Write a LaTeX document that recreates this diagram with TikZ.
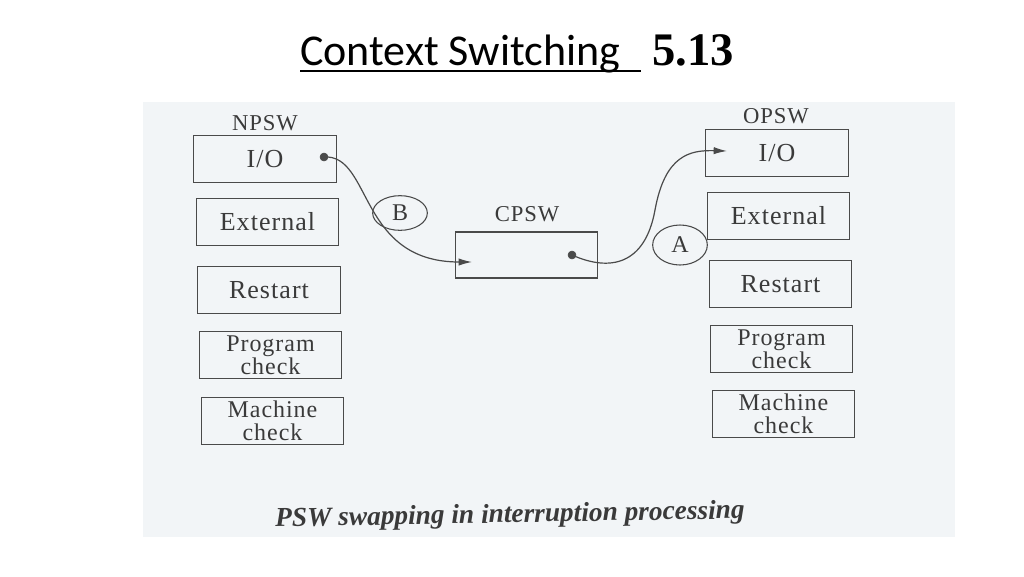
\documentclass[tikz,border=0pt]{standalone}
\usepackage{fontspec}
\setmainfont{Liberation Serif}
\newfontfamily\titlefont{Carlito}
\newfontfamily\spacedserif[LetterSpace=4]{Liberation Serif}
\usetikzlibrary{arrows.meta,shapes.geometric}
\definecolor{panel}{HTML}{F2F5F7}
\definecolor{ink}{HTML}{4A4A4A}
\definecolor{txt}{HTML}{3A3A3A}
\tikzset{
  pswbox/.style={draw=ink, line width=0.9pt, minimum width=107pt, minimum height=35pt, inner sep=0pt, text=txt, font=\spacedserif\fontsize{19.5}{19.5}\selectfont, align=center},
  twoline/.style={font=\spacedserif\fontsize{18}{17}\selectfont},
  lbl/.style={text=txt, font=\spacedserif\fontsize{17}{17}\selectfont, inner sep=0pt},
  tag/.style={draw=ink, line width=0.8pt, ellipse, inner sep=0pt, text=txt, font=\fontsize{18}{18}\selectfont},
  flow/.style={draw=ink, line width=0.9pt, -{Latex[length=10pt,width=5.5pt]}},
  dotmark/.style={fill=ink, draw=ink}
}
\begin{document}
\begin{tikzpicture}[x=0.75pt,y=-0.75pt]
\useasboundingbox (0,0) rectangle (1024,576);
\fill[white] (0,0) rectangle (1024,576);
% title
\node[anchor=base west, inner sep=0pt, font=\titlefont\fontsize{33}{33}\selectfont] (title) at (300,65) {Context Switching};
\draw[line width=1.6pt] (300,71) -- (641,71);
\node[anchor=base west, inner sep=0pt, font=\bfseries\fontsize{35}{35}\selectfont] (num) at (652,65) {5.13};
% panel
\fill[panel] (143,102) rectangle (955,537);
% left column NPSW
\node[lbl] (npsw) at (265,123) {NPSW};
\node[pswbox] (lio) at (265,159) {I/O};
\node[pswbox] (lext) at (267.5,222) {External};
\node[pswbox] (lres) at (269,290) {Restart};
\node[pswbox, twoline] (lprog) at (270.5,355) {Program\\check};
\node[pswbox, twoline] (lmach) at (272.5,421) {Machine\\check};
% CPSW
\node[lbl] (cpswl) at (527,214) {CPSW};
\node[pswbox, minimum width=107pt, minimum height=34.5pt] (cpsw) at (526.5,255) {};
% right column OPSW
\node[lbl] (opsw) at (776,116) {OPSW};
\node[pswbox] (rio) at (777,153) {I/O};
\node[pswbox] (rext) at (778.5,216) {External};
\node[pswbox] (rres) at (780.5,284) {Restart};
\node[pswbox, twoline] (rprog) at (781.5,349) {Program\\check};
\node[pswbox, twoline] (rmach) at (783.5,414) {Machine\\check};
% tags
\node[tag, minimum width=41pt, minimum height=26pt] (B) at (400,213) {B};
\node[tag, minimum width=41pt, minimum height=30pt] (A) at (680,245) {A};
% dots and arrow ends
\coordinate (d1) at (324,157);
\coordinate (d2) at (572,255);
\coordinate (e1) at (472,262);
\coordinate (e2) at (727,151);
\fill[dotmark] (d1) circle (3pt);
\fill[dotmark] (d2) circle (3pt);
\draw[flow] (d1) .. controls (372,154) and (358,262) .. (e1);
\draw[flow] (d2) .. controls (610,272) and (645,265) .. (655,210) .. controls (665,155) and (690,150) .. (e2);
% caption
\node[rotate=1, text=txt, font=\bfseries\itshape\fontsize{20.5}{20.5}\selectfont, inner sep=0pt] (cap) at (510,516) {PSW swapping in interruption processing};
\end{tikzpicture}
\end{document}
